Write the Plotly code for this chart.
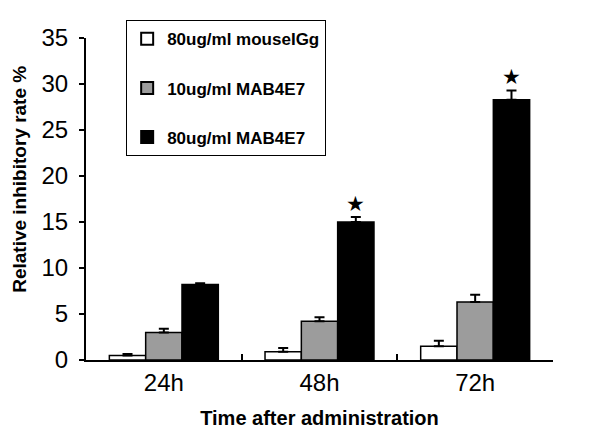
import plotly.graph_objects as go

categories = ["24h", "48h", "72h"]
series_names = ["80ug/ml mouseIGg", "10ug/ml MAB4E7", "80ug/ml MAB4E7"]
igg_vals = [0.5, 0.9, 1.5]
igg_err = [0.15, 0.4, 0.6]
low_vals = [3.0, 4.2, 6.3]
low_err = [0.4, 0.45, 0.8]
high_vals = [8.2, 15.0, 28.3]
high_err = [0.15, 0.55, 1.0]
significance = ["", "★", "★"]

colors = ["#ffffff", "#9c9c9c", "#000000"]
font_family = "Liberation Sans, Arial, sans-serif"

fig = go.Figure()
for i, (name, vals, errs) in enumerate(zip(series_names,
                                            [igg_vals, low_vals, high_vals],
                                            [igg_err, low_err, high_err])):
    fig.add_trace(go.Bar(
        x=categories, y=vals, name=name, legendgroup=f"g{i}",
        marker=dict(color=colors[i], line=dict(color="black", width=1.5)),
        error_y=dict(type="data", array=errs, arrayminus=[0]*len(errs),
                     symmetric=False, color="black", thickness=2, width=5),
    ))

for cat, v, e, s in zip(categories, high_vals, high_err, significance):
    if s:
        fig.add_annotation(x=cat, y=v + e, text=s, showarrow=False,
                           xref="x", yref="y", xshift=36, yshift=13,
                           yanchor="middle",
                           font=dict(size=21, color="black", family="DejaVu Sans"))

# y-axis title placed as rotated annotation
fig.add_annotation(text="<b>Relative inhibitory rate %</b>", textangle=-90,
                   xref="paper", yref="paper", x=-0.141, y=0.56,
                   xanchor="center", yanchor="middle", showarrow=False,
                   font=dict(size=19, family=font_family, color="black"))

fig.update_layout(
    width=592, height=428,
    margin=dict(l=78, r=47, t=25, b=76),
    paper_bgcolor="white", plot_bgcolor="white",
    barmode="group", bargap=0.3, bargroupgap=0,
    font=dict(family=font_family, color="black"),
    legend=dict(x=0.086, y=1.055, xanchor="left", yanchor="top",
                bordercolor="black", borderwidth=1, bgcolor="white",
                traceorder="grouped", tracegroupgap=24,
                font=dict(size=17, family=font_family, weight="bold"),
                itemsizing="constant"),
    showlegend=True,
)
fig.update_xaxes(
    type="category", showline=True, linecolor="black", linewidth=2,
    ticks="inside", tickson="boundaries", ticklen=6, tickwidth=1.5, tickcolor="black",
    tickfont=dict(size=24), showgrid=False, zeroline=False, automargin=False,
    title=dict(text="<b>Time after administration</b>", font=dict(size=20), standoff=16),
)
fig.update_yaxes(
    range=[0, 35], dtick=5, showline=True, linecolor="black", linewidth=2,
    ticks="outside", ticklen=5, tickwidth=1.5, tickcolor="black",
    tickfont=dict(size=24), showgrid=False, zeroline=False, automargin=False,
    ticklabelstandoff=6,
)

fig.write_html("out.html")
